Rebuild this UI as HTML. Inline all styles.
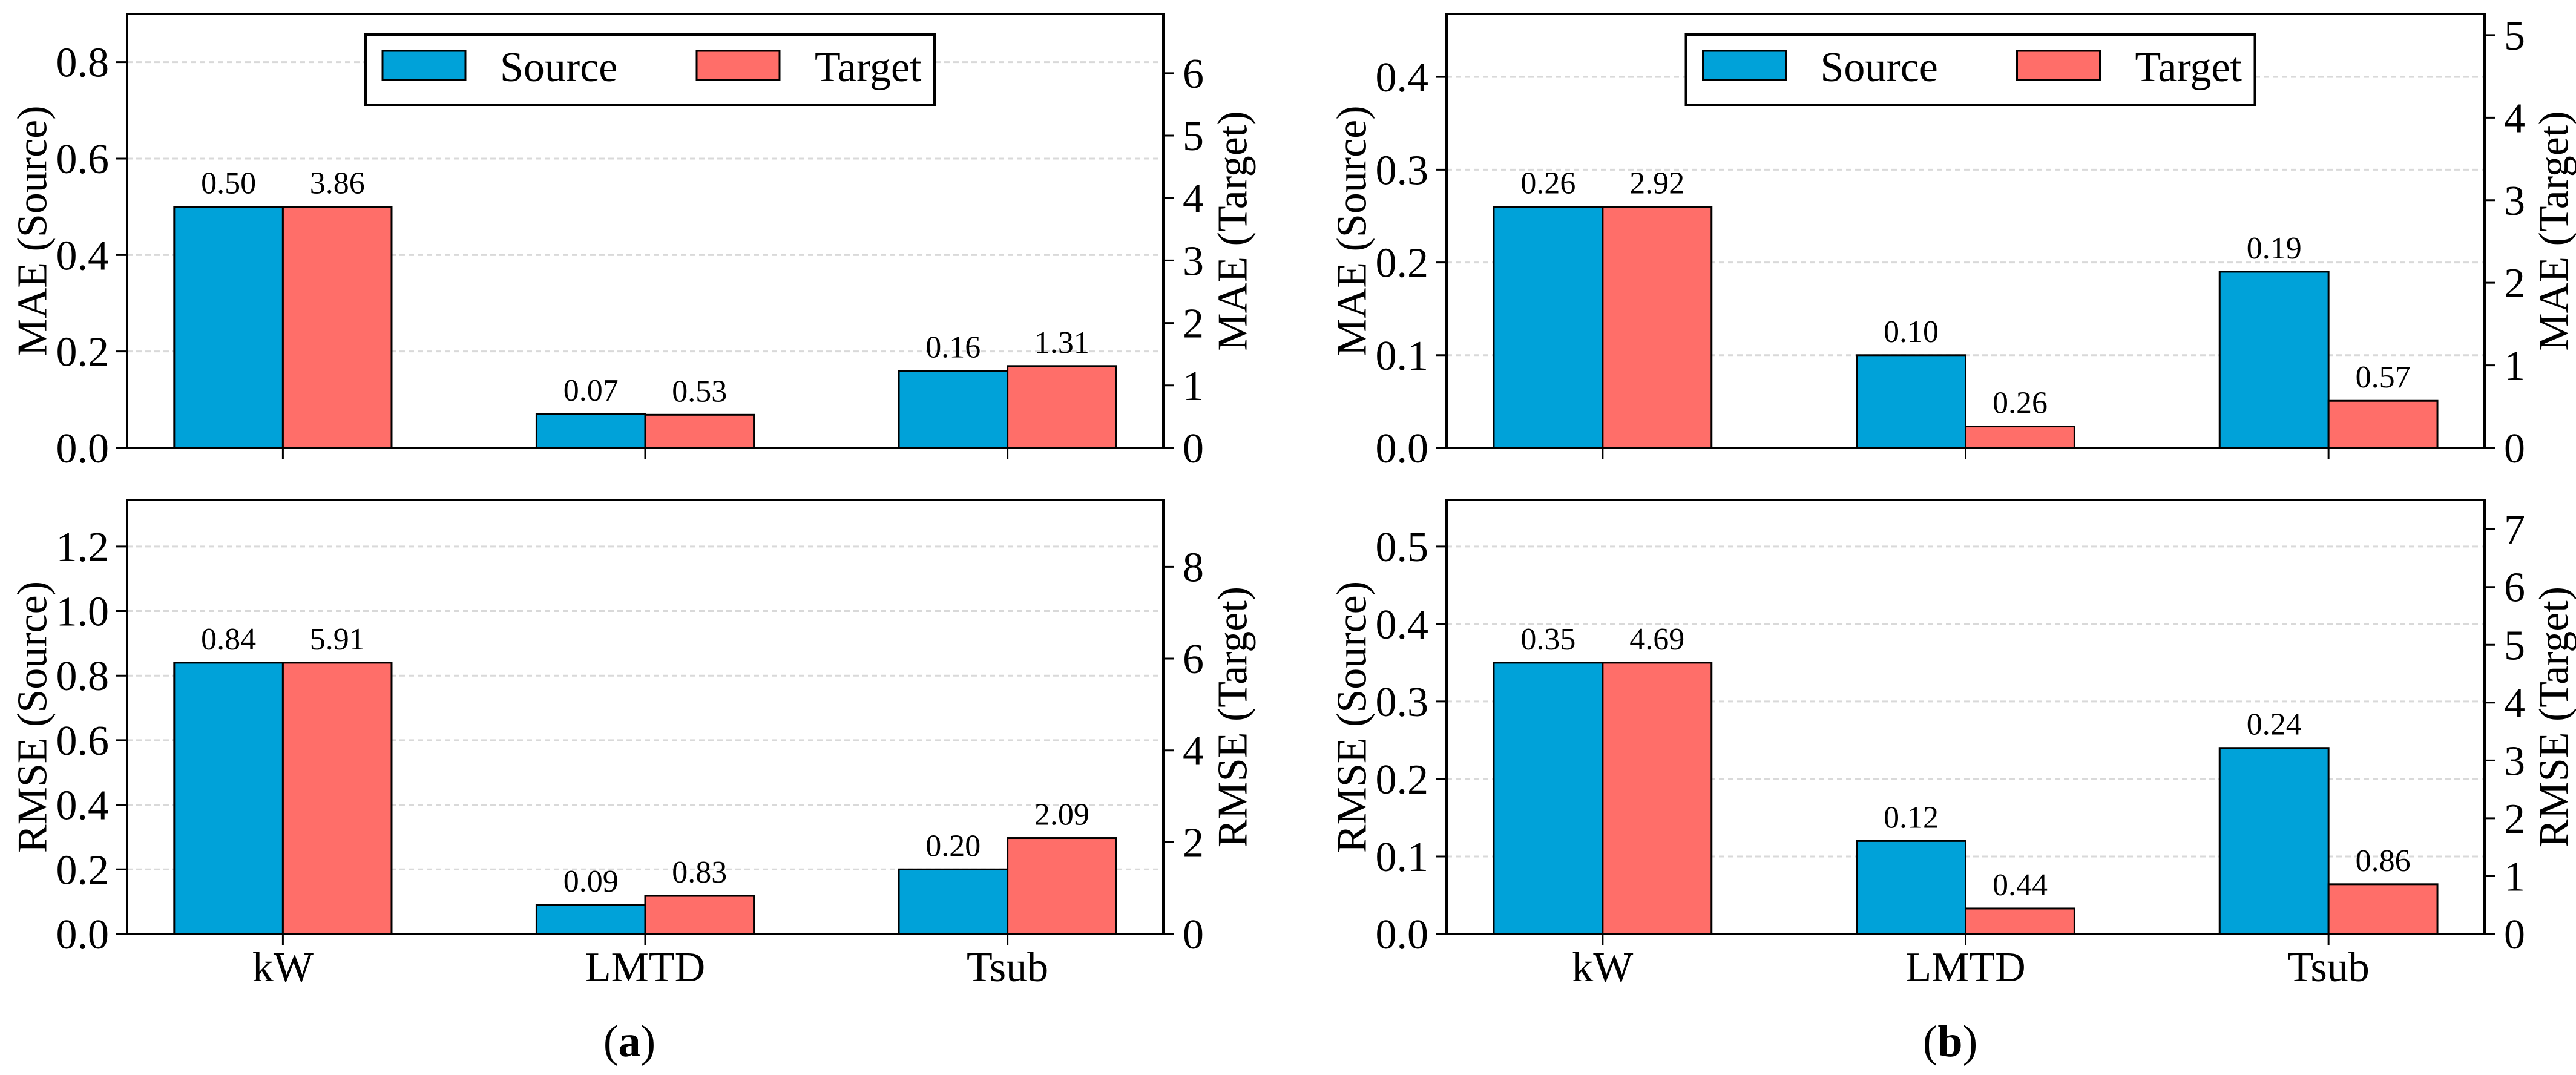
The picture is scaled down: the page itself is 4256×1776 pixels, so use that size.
<!DOCTYPE html>
<html><head><meta charset="utf-8"><style>
html,body{margin:0;padding:0;background:#fff;}
svg{display:block;font-family:"Liberation Serif",serif;}
</style></head><body>
<svg id="fig" width="4256" height="1776" viewBox="0 0 4256 1776" xmlns="http://www.w3.org/2000/svg"></svg>
<script>
const categories = ["kW", "LMTD", "Tsub"];
const maeSourceA = [0.50, 0.07, 0.16];
const maeTargetA = [3.86, 0.53, 1.31];
const rmseSourceA = [0.84, 0.09, 0.20];
const rmseTargetA = [5.91, 0.83, 2.09];
const maeSourceB = [0.26, 0.10, 0.19];
const maeTargetB = [2.92, 0.26, 0.57];
const rmseSourceB = [0.35, 0.12, 0.24];
const rmseTargetB = [4.69, 0.44, 0.86];
const leftTicksMaeA = [0, 0.2, 0.4, 0.6, 0.8];
const rightTicksMaeA = [0, 1, 2, 3, 4, 5, 6];
const leftTicksRmseA = [0, 0.2, 0.4, 0.6, 0.8, 1.0, 1.2];
const rightTicksRmseA = [0, 2, 4, 6, 8];
const leftTicksMaeB = [0, 0.1, 0.2, 0.3, 0.4];
const rightTicksMaeB = [0, 1, 2, 3, 4, 5];
const leftTicksRmseB = [0, 0.1, 0.2, 0.3, 0.4, 0.5];
const rightTicksRmseB = [0, 1, 2, 3, 4, 5, 6, 7];

const NS = "http://www.w3.org/2000/svg";
const svg = document.getElementById("fig");
const BLUE = "#00a2d9", RED = "#ff6e69";
function mk(tag, attrs, parent) {
  const e = document.createElementNS(NS, tag);
  for (const k in attrs) e.setAttribute(k, attrs[k]);
  (parent || svg).appendChild(e);
  return e;
}
function txt(s, attrs, parent) { const t = mk("text", attrs, parent); t.textContent = s; return t; }

function panel(o) {
  const g = mk("g", {});
  
  
  const L = o.x0, R = o.x1, T = o.y0, B = o.y1;
  const xmin = -0.43, xmax = 2.43;
  const xs = v => L + (v - xmin) / (xmax - xmin) * (R - L);
  const sMax = Math.max(...o.src) * o.f, tMax = Math.max(...o.tgt) * o.f;
  const ysL = v => B - v / sMax * (B - T);
  const ysR = v => B - v / tMax * (B - T);
  // grid
  o.lt.forEach(v => {
    if (v === 0) return;
    const y = ysL(v);
    const gl = mk("line", {x1: L, x2: R, y1: y, y2: y, stroke: "#d9d9d9", "stroke-width": 3, "stroke-dasharray": "9 6"}, g);
    
    
  });
  const w = 0.3;
  categories.forEach((c, i) => {
    const xa = xs(i - w), xb = xs(i), xc = xs(i + w);
    const bs = mk("rect", {x: xa, y: ysL(o.src[i]), width: xb - xa, height: B - ysL(o.src[i]), fill: BLUE, stroke: "#000", "stroke-width": 3}, g);
    
    
    const bt = mk("rect", {x: xb, y: ysR(o.tgt[i]), width: xc - xb, height: B - ysR(o.tgt[i]), fill: RED, stroke: "#000", "stroke-width": 3}, g);
    
    
    const ls = txt(o.src[i].toFixed(2), {x: (xa + xb) / 2, y: ysL(o.src[i]) - 22, "font-size": 52, "text-anchor": "middle"}, g);
    
    
    const lt = txt(o.tgt[i].toFixed(2), {x: (xb + xc) / 2, y: ysR(o.tgt[i]) - 22, "font-size": 52, "text-anchor": "middle"}, g);
    
    
    const tk = mk("line", {x1: xb, x2: xb, y1: B, y2: B + 18, stroke: "#000", "stroke-width": 3}, g);
    
    
    if (o.xlabels) {
      const xl = txt(c, {x: xb, y: B + 78, "font-size": 70, "text-anchor": "middle"}, g);
      
      
    }
  });
  // frame
  const fr = mk("rect", {x: L, y: T, width: R - L, height: B - T, fill: "none", stroke: "#000", "stroke-width": 4}, g);
  
  
  o.lt.forEach(v => {
    const y = ysL(v);
    mk("line", {x1: L - 18, x2: L, y1: y, y2: y, stroke: "#000", "stroke-width": 3}, g);
    const t = txt(v.toFixed(1), {x: L - 30, y: y + 24, "font-size": 70, "text-anchor": "end"}, g);
    
    
  });
  o.rt.forEach(v => {
    const y = ysR(v);
    mk("line", {x1: R, x2: R + 18, y1: y, y2: y, stroke: "#000", "stroke-width": 3}, g);
    const t = txt(String(v), {x: R + 32, y: y + 24, "font-size": 70, "text-anchor": "start"}, g);
    
    
  });
  const cy = (T + B) / 2;
  const yl = txt(o.ylab + " (Source)", {x: L - 156, y: cy, "font-size": 70, "text-anchor": "middle", "dominant-baseline": "central", transform: `rotate(-90 ${L - 156} ${cy})`}, g);
  
  
  const yr = txt(o.ylab + " (Target)", {x: R + 115, y: cy, "font-size": 70, "text-anchor": "middle", "dominant-baseline": "central", transform: `rotate(-90 ${R + 115} ${cy})`}, g);
  
  
  if (o.legend) {
    const lg = mk("g", {}, g);
    
    
    const lx = (L + R) / 2 - 470 + 8;
    mk("rect", {x: lx, y: 57, width: 940, height: 116, fill: "#fff", stroke: "#000", "stroke-width": 4}, lg);
    const p1 = mk("rect", {x: lx + 28, y: 84, width: 137, height: 48, fill: BLUE, stroke: "#000", "stroke-width": 3}, lg);
    
    
    const t1 = txt("Source", {x: lx + 222, y: 134, "font-size": 70}, lg);
    
    
    const p2 = mk("rect", {x: lx + 547, y: 84, width: 137, height: 48, fill: RED, stroke: "#000", "stroke-width": 3}, lg);
    
    
    const t2 = txt("Target", {x: lx + 742, y: 134, "font-size": 70}, lg);
    
    
  }
}
const AX = [210, 1922], BX = [2390, 4105];
const TOP = [23, 740], BOT = [826, 1543];
panel({name: "panel-a-mae", x0: AX[0], x1: AX[1], y0: TOP[0], y1: TOP[1], src: maeSourceA, tgt: maeTargetA, f: 1.8, lt: leftTicksMaeA, rt: rightTicksMaeA, ylab: "MAE", legend: true});
panel({name: "panel-a-rmse", x0: AX[0], x1: AX[1], y0: BOT[0], y1: BOT[1], src: rmseSourceA, tgt: rmseTargetA, f: 1.6, lt: leftTicksRmseA, rt: rightTicksRmseA, ylab: "RMSE", xlabels: true});
panel({name: "panel-b-mae", x0: BX[0], x1: BX[1], y0: TOP[0], y1: TOP[1], src: maeSourceB, tgt: maeTargetB, f: 1.8, lt: leftTicksMaeB, rt: rightTicksMaeB, ylab: "MAE", legend: true});
panel({name: "panel-b-rmse", x0: BX[0], x1: BX[1], y0: BOT[0], y1: BOT[1], src: rmseSourceB, tgt: rmseTargetB, f: 1.6, lt: leftTicksRmseB, rt: rightTicksRmseB, ylab: "RMSE", xlabels: true});

[["a", 1040], ["b", 3222]].forEach(([s, x]) => {
  const t = mk("text", {x: x, y: 1745, "font-size": 74, "text-anchor": "middle"});
  
  
  const a = mk("tspan", {}, t); a.textContent = "(";
  const b = mk("tspan", {"font-weight": "bold"}, t); b.textContent = s;
  const c = mk("tspan", {}, t); c.textContent = ")";
});
</script>
</body></html>
